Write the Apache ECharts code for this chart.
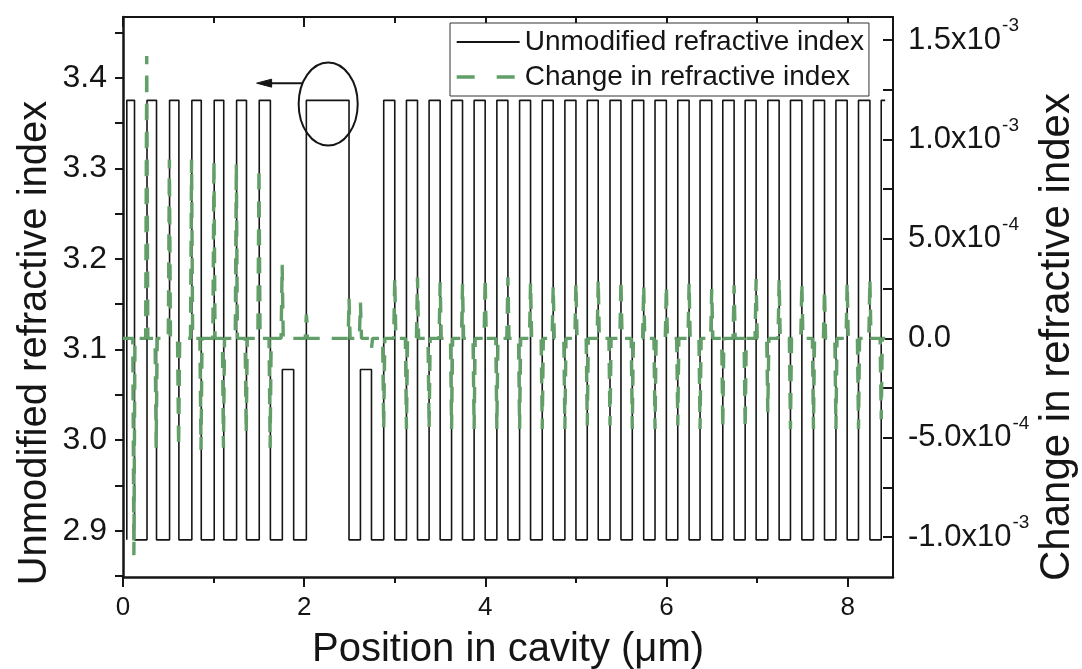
<!DOCTYPE html>
<html>
<head>
<meta charset="utf-8">
<script src="https://cdn.jsdelivr.net/npm/echarts@6/dist/echarts.min.js"></script>
<style>
  html, body { margin: 0; padding: 0; background: #ffffff; }
  #chart { width: 1082px; height: 669px; }
</style>
</head>
<body>
<div id="chart"></div>
<script>
// Raised-index layers of the cavity structure: start / end position (µm) and index
const layerStart = [0.042, 0.265, 0.514, 0.760, 1.007, 1.254, 1.504, 1.759, 2.024, 2.621,
  2.878, 3.129, 3.379, 3.627, 3.876, 4.127, 4.378, 4.628, 4.878, 5.125, 5.376, 5.622,
  5.873, 6.124, 6.370, 6.621, 6.868, 7.118, 7.368, 7.622, 7.870, 8.119, 8.370];
const layerEnd = [0.127, 0.370, 0.617, 0.864, 1.112, 1.363, 1.627, 1.884, 2.495, 2.743,
  3.000, 3.251, 3.501, 3.748, 3.998, 4.249, 4.499, 4.749, 5.000, 5.246, 5.497, 5.748,
  5.998, 6.249, 6.499, 6.746, 6.989, 7.243, 7.494, 7.744, 7.994, 8.245, 8.414];
const layerIndex = [3.375, 3.375, 3.375, 3.375, 3.375, 3.375, 3.375, 3.078, 3.375, 3.078,
  3.375, 3.375, 3.375, 3.375, 3.375, 3.375, 3.375, 3.375, 3.375, 3.375, 3.375, 3.375,
  3.375, 3.375, 3.375, 3.375, 3.375, 3.375, 3.375, 3.375, 3.375, 3.375, 3.375];
const lowIndex = 2.89;
const traceEnd = 8.414;

// Change in refractive index: peaks at the layer interfaces (position µm, value)
const spikePos = [0.120, 0.262, 0.366, 0.512, 0.614, 0.757, 0.861, 1.004, 1.109, 1.251,
  1.360, 1.501, 1.624, 1.757, 2.024, 2.495, 2.621, 2.743,
  2.878, 3.000, 3.129, 3.251, 3.379, 3.501, 3.627, 3.748, 3.876, 3.998, 4.127, 4.249,
  4.378, 4.499, 4.628, 4.749, 4.878, 5.000, 5.125, 5.246, 5.376, 5.497, 5.622, 5.748,
  5.873, 5.998, 6.124, 6.249, 6.370, 6.499, 6.621, 6.746, 6.868, 6.989, 7.118, 7.243,
  7.368, 7.494, 7.622, 7.744, 7.870, 7.994, 8.119, 8.245, 8.370];
const spikeVal = [-1.09e-3, 1.42e-3, -5.5e-4, 9.0e-4, -5.5e-4, 9.0e-4, -5.6e-4, 9.0e-4, -5.5e-4, 8.8e-4,
  -4.8e-4, 8.6e-4, -5.5e-4, 3.7e-4, 1.2e-4, 2.0e-4, 1.8e-4, -5.0e-5,
  -4.56e-4, 3.07e-4, -4.56e-4, 3.07e-4, -4.56e-4, 2.82e-4, -4.56e-4, 2.73e-4, -4.56e-4, 3.07e-4, -4.56e-4, 3.07e-4,
  -4.56e-4, 2.82e-4, -4.56e-4, 2.67e-4, -4.56e-4, 2.82e-4, -4.38e-4, 2.98e-4, -4.38e-4, 2.98e-4, -4.56e-4, 2.67e-4,
  -4.56e-4, 2.67e-4, -4.38e-4, 2.82e-4, -4.56e-4, 2.48e-4, -4.56e-4, 2.67e-4, -4.56e-4, 2.98e-4, -3.72e-4, 2.98e-4,
  -4.56e-4, 2.82e-4, -4.56e-4, 2.48e-4, -4.56e-4, 2.82e-4, -4.56e-4, 2.98e-4, -4.06e-4];
// Flat shift inside the central cavity layer
const plateauX = [2.030, 2.490];
const plateauVal = [8.5e-5, 8.5e-5];

// Axis ticks and labels
const xMajor = [0, 2, 4, 6, 8];
const xMinor = [1, 3, 5, 7];
const leftTicks = [2.85, 2.9, 2.95, 3.0, 3.05, 3.1, 3.15, 3.2, 3.25, 3.3, 3.35, 3.4, 3.45];
const leftLabels = [2.9, 3.0, 3.1, 3.2, 3.3, 3.4];
const rightTicks = [-1.0e-3, -7.5e-4, -5.0e-4, -2.5e-4, 0, 2.5e-4, 5.0e-4, 7.5e-4, 1.0e-3, 1.25e-3, 1.5e-3];
const rightLabels = [-1.0e-3, -5.0e-4, 0, 5.0e-4, 1.0e-3, 1.5e-3];

const FONT = '"Liberation Sans", Arial, Helvetica, sans-serif';
const INK = '#151515';
const GREEN = '#629e67';

// Step profile of the unmodified index
const indexPts = [];
layerStart.forEach((s, i) => {
  const e = layerEnd[i];
  indexPts.push([s, lowIndex], [s, layerIndex[i]], [e, layerIndex[i]]);
  if (e < traceEnd) indexPts.push([e, lowIndex]);
});

// Index change trace: narrow peaks on a zero baseline
const halfW = 0.012;
const changePts = [[0, 0]];
spikePos.forEach((p, i) => {
  changePts.push([p - halfW, 0], [p, spikeVal[i]], [p + halfW, 0]);
});
plateauX.forEach((x, i) => changePts.push([x, plateauVal[i]]));
changePts.push([traceEnd, 0]);
changePts.sort((a, b) => a[0] - b[0]);

function sciLabel(v) {
  if (Math.abs(v) < 1e-12) return '{m|0.0}';
  const e = Math.floor(Math.log10(Math.abs(v)) + 1e-9);
  const m = v / Math.pow(10, e);
  return '{m|' + m.toFixed(1) + 'x10}{e|' + e + '}';
}

function xAxisDef(position, ticks, len, inside, withLine, withLabels, extra) {
  return Object.assign({
    type: 'value', position: position, min: 0, max: 8.5,
    axisLine: { show: withLine, onZero: false, lineStyle: { color: INK, width: position === 'bottom' ? 2.5 : 2 } },
    axisTick: { show: true, inside: inside, length: len, customValues: ticks, lineStyle: { color: INK, width: 2 } },
    minorTick: { show: false },
    axisLabel: withLabels
      ? { show: true, customValues: xMajor, fontFamily: FONT, fontSize: 26, color: INK, margin: 18 }
      : { show: false },
    splitLine: { show: false }
  }, extra || {});
}

const chart = echarts.init(document.getElementById('chart'), null, { renderer: 'canvas' });

const option = {
  animation: false,
  backgroundColor: '#ffffff',
  textStyle: { fontFamily: FONT, color: INK },
  grid: { left: 123, right: 189, top: 17, bottom: 92, containLabel: false, outerBoundsMode: 'none' },
  legend: {
    orient: 'vertical',
    left: 450,
    top: 23,
    padding: [5, 5, 5, 5],
    itemGap: 7,
    itemWidth: 63,
    itemHeight: 14,
    borderColor: '#333',
    borderWidth: 1,
    backgroundColor: '#ffffff',
    itemStyle: { opacity: 0 },
    textStyle: { fontFamily: FONT, fontSize: 28, color: INK },
    data: [
      { name: 'Unmodified refractive index' },
      { name: 'Change in refractive index', lineStyle: { type: [18, 22], width: 3.4 } }
    ]
  },
  xAxis: [
    xAxisDef('bottom', xMajor, 10, false, true, true, {
      name: 'Position in cavity (\u03bcm)', nameLocation: 'middle', nameGap: 53,
      nameTextStyle: { fontFamily: FONT, fontSize: 40, color: INK }
    }),
    xAxisDef('bottom', xMinor, 6, false, false, false),
    xAxisDef('top', xMajor, 10, true, true, false),
    xAxisDef('top', xMinor, 6, true, false, false)
  ],
  yAxis: [
    {
      type: 'value', position: 'left', min: 2.849, max: 3.467,
      axisLine: { show: true, onZero: false, lineStyle: { color: INK, width: 2.5 } },
      axisTick: { show: true, inside: false, length: 8, customValues: leftTicks, lineStyle: { color: INK, width: 2 } },
      minorTick: { show: false },
      axisLabel: {
        customValues: leftLabels,
        fontFamily: FONT, fontSize: 32, color: INK, margin: 16,
        formatter: v => v.toFixed(1)
      },
      splitLine: { show: false }
    },
    {
      type: 'value', position: 'right', min: -1.2e-3, max: 1.616e-3,
      axisLine: { show: true, onZero: false, lineStyle: { color: INK, width: 2 } },
      axisTick: { show: true, inside: true, length: 10, customValues: rightTicks, lineStyle: { color: INK, width: 2 } },
      minorTick: { show: false },
      axisLabel: {
        customValues: rightLabels,
        fontFamily: FONT, color: INK, margin: 15,
        formatter: sciLabel,
        rich: {
          m: { fontFamily: FONT, fontSize: 31, color: INK },
          e: { fontFamily: FONT, fontSize: 19, color: INK, padding: [0, 0, 28, 1] }
        }
      },
      splitLine: { show: false }
    }
  ],
  series: [
    {
      name: 'Unmodified refractive index',
      type: 'line', xAxisIndex: 0, yAxisIndex: 0,
      data: indexPts, symbol: 'none', smooth: false,
      lineStyle: { color: INK, width: 1.6 },
      itemStyle: { color: INK },
      z: 2
    },
    {
      name: 'Change in refractive index',
      type: 'line', xAxisIndex: 0, yAxisIndex: 1,
      data: changePts, symbol: 'none', smooth: false,
      lineStyle: { color: GREEN, width: 3.4, type: [16, 12] },
      itemStyle: { color: GREEN },
      z: 3
    }
  ]
};

chart.setOption(option);

// Annotation: circle round the cavity layer with an arrow toward the left axis
const toPx = p => chart.convertToPixel({ xAxisIndex: 0, yAxisIndex: 0 }, p);
const cavCenter = toPx([2.265, 3.371]);
const cavEdge = toPx([2.591, 3.4168]);
const rx = cavEdge[0] - cavCenter[0];
const ry = cavCenter[1] - cavEdge[1];
const arrowTip = toPx([1.475, 3.394]);
const dy = cavCenter[1] - arrowTip[1];
const arrowStartX = cavCenter[0] - rx * Math.sqrt(Math.max(0, 1 - (dy / ry) * (dy / ry)));
const headLen = 15, headHalf = 4;

// Axis titles for the two value axes
const gridRect = chart.getModel().getComponent('grid').coordinateSystem.getRect();

chart.setOption({
  graphic: [
    {
      type: 'ellipse', z: 10,
      shape: { cx: cavCenter[0], cy: cavCenter[1], rx: rx, ry: ry },
      style: { fill: 'none', stroke: INK, lineWidth: 2 }
    },
    {
      type: 'line', z: 10,
      shape: { x1: arrowStartX, y1: arrowTip[1], x2: arrowTip[0] + headLen - 2, y2: arrowTip[1] },
      style: { stroke: INK, lineWidth: 2 }
    },
    {
      type: 'polygon', z: 10,
      shape: { points: [[arrowTip[0], arrowTip[1]], [arrowTip[0] + headLen, arrowTip[1] - headHalf], [arrowTip[0] + headLen, arrowTip[1] + headHalf]] },
      style: { fill: INK, stroke: INK, lineWidth: 1 }
    },
    {
      type: 'text', z: 10,
      x: gridRect.x - 88, y: gridRect.y + gridRect.height / 2 + 46,
      rotation: Math.PI / 2,
      style: {
        text: 'Unmodified refractive index', fill: INK,
        font: '40px ' + FONT, textAlign: 'center', textVerticalAlign: 'middle'
      }
    },
    {
      type: 'text', z: 10,
      x: gridRect.x + gridRect.width + 164, y: gridRect.y + gridRect.height / 2 + 40,
      rotation: Math.PI / 2,
      style: {
        text: 'Change in refractive index', fill: INK,
        font: '42px ' + FONT, textAlign: 'center', textVerticalAlign: 'middle'
      }
    }
  ]
});
</script>
</body>
</html>
